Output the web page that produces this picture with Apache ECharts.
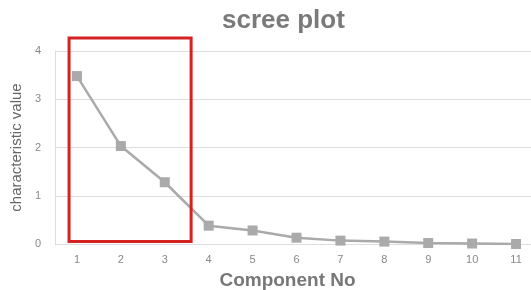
<!DOCTYPE html>
<html lang="en">
<head>
    <meta charset="UTF-8">
    <title>scree plot</title>
    <script src="https://cdn.jsdelivr.net/npm/echarts/dist/echarts.min.js"></script>
    <style>
        html, body { margin: 0; padding: 0; background: #fff; }
        #main { width: 531px; height: 290px; }
    </style>
</head>
<body>
    <div id="main"></div>
    <script>
        var components = [1, 2, 3, 4, 5, 6, 7, 8, 9, 10, 11];
        var eigenValues = [3.48, 2.03, 1.28, 0.38, 0.28, 0.13, 0.07, 0.05, 0.02, 0.01, 0];
        var yTicks = [0, 1, 2, 3, 4];
        // highlighted box around the first three components (data coords)
        var boxX = [0.82, 3.6];
        var boxY = [0.05, 4.27];

        var chart = echarts.init(document.getElementById('main'));
        var option = {
            animation: false,
            title: {
                text: 'scree plot',
                left: 217,
                top: 3,
                textStyle: { color: '#7a7a7a', fontSize: 26, fontWeight: 'bold', fontFamily: 'Liberation Sans' }
            },
            grid: { left: 55, right: -7, top: 51, bottom: 46, outerBoundsMode: 'none', containLabel: false },
            xAxis: {
                type: 'value',
                min: 0.5,
                max: 11.5,
                name: 'Component No',
                nameLocation: 'middle',
                nameGap: 27,
                nameTextStyle: { color: '#777', fontSize: 19, fontWeight: 'bold', fontFamily: 'Liberation Sans', padding: [0, 0, 0, -18] },
                axisLine: { show: false },
                axisTick: { show: false },
                splitLine: { show: false },
                axisLabel: {
                    customValues: components,
                    color: '#888',
                    fontSize: 11,
                    margin: 10,
                    fontFamily: 'Liberation Sans'
                }
            },
            yAxis: {
                type: 'value',
                min: yTicks[0],
                max: yTicks[yTicks.length - 1],
                interval: 1,
                name: 'characteristic value',
                nameLocation: 'middle',
                nameGap: 26,
                nameTextStyle: { color: '#666', fontSize: 15, fontFamily: 'Liberation Sans' },
                axisLine: { show: true, lineStyle: { color: '#ddd' } },
                axisTick: { show: false },
                splitLine: { lineStyle: { color: '#ddd' } },
                axisLabel: { color: '#888', fontSize: 11, margin: 14, fontFamily: 'Liberation Sans' }
            },
            series: [{
                type: 'line',
                data: components.map(function (c, i) { return [c, eigenValues[i]]; }),
                symbol: 'rect',
                symbolSize: 10,
                lineStyle: { color: '#aaa', width: 2.5 },
                itemStyle: { color: '#aaa' },
                z: 2
            }]
        };
        chart.setOption(option);

        // the box reaches above the top of the grid, so draw it as a graphic
        var p0 = chart.convertToPixel({ gridIndex: 0 }, [boxX[0], boxY[1]]);
        var p1 = chart.convertToPixel({ gridIndex: 0 }, [boxX[1], boxY[0]]);
        chart.setOption({
            graphic: [{
                type: 'rect',
                z: 10,
                silent: true,
                shape: { x: p0[0], y: p0[1], width: p1[0] - p0[0], height: p1[1] - p0[1] },
                style: { fill: 'none', stroke: '#d42222', lineWidth: 3 }
            }]
        });
    </script>
</body>
</html>
